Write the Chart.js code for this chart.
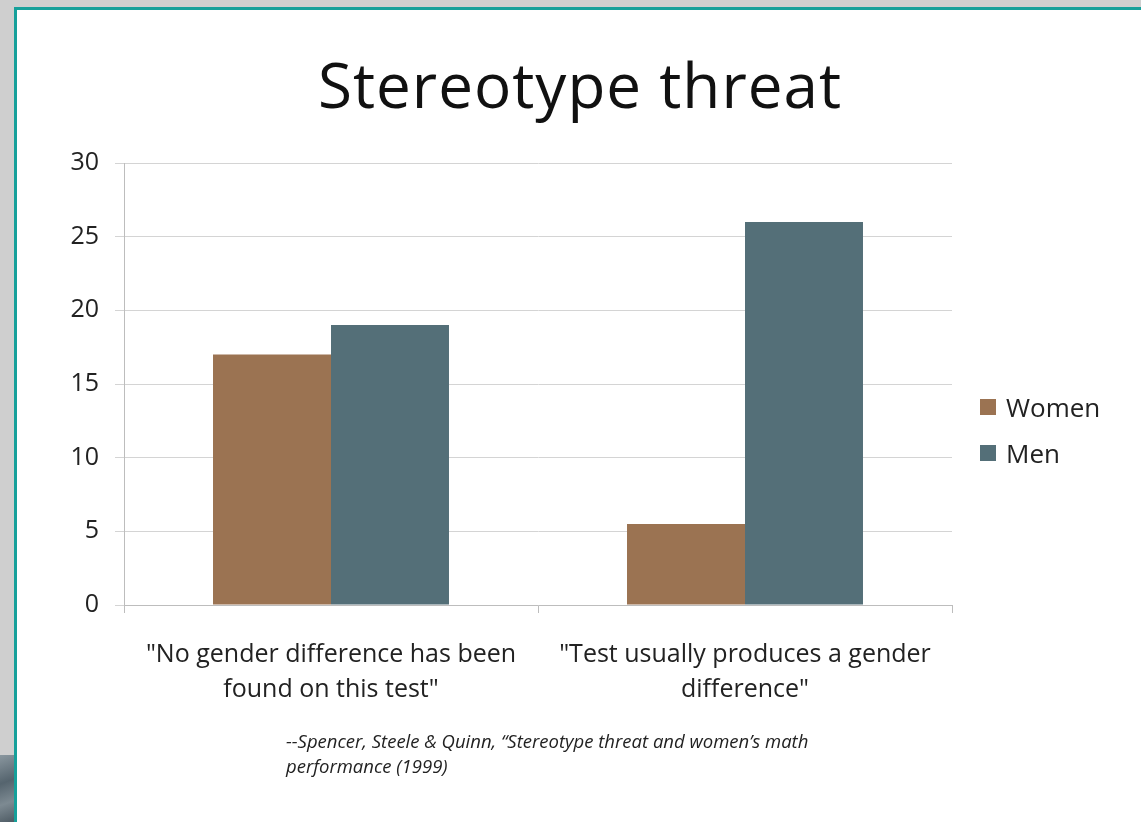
<!DOCTYPE html>
<html>
<head>
<meta charset="utf-8">
<script src="https://cdn.jsdelivr.net/npm/chart.js@4.4.1/dist/chart.umd.min.js"></script>
<style>
  html, body { margin:0; padding:0; }
  body { width:1141px; height:822px; background:#cfcfcf; position:relative; overflow:hidden; font-family: "Open Sans", Lato, sans-serif; }
  #photo { position:absolute; left:0; top:755px; width:15px; height:67px; background:linear-gradient(160deg,#8a979f,#55646e 40%,#7d8a92 70%,#4d5a63); }
  #slide { position:absolute; left:14px; top:7px; right:-10px; bottom:-10px; background:#fff; border-left:3px solid #16a09a; border-top:3px solid #16a09a; }
  #wrap { position:absolute; left:0; top:0; width:1141px; height:822px; }
  #title { position:absolute; left:0; width:1160px; top:44px; text-align:center; font-size:62px; letter-spacing:1px; color:#111; line-height:80px; }
  #legend { position:absolute; left:980px; top:384px; font-size:26px; color:#222; }
  #legend div { height:46px; line-height:34px; display:flex; align-items:center; }
  #legend span.sw { display:inline-block; width:16px; height:16px; margin-right:10px; }
  #cite { position:absolute; left:286px; top:728px; font-size:18.5px; font-style:italic; color:#222; line-height:25px; }
</style>
</head>
<body>
<div id="photo"></div>
<div id="slide"></div>
<div id="title">Stereotype threat</div>
<div id="wrap"><canvas id="c" width="1141" height="822"></canvas></div>
<div id="legend"></div>
<div id="cite">--Spencer, Steele &amp; Quinn, “Stereotype threat and women’s math<br>performance (1999)</div>
<script>
const categories = [
  ['"No gender difference has been', 'found on this test"'],
  ['"Test usually produces a gender', 'difference"']
];
const seriesNames = ['Women', 'Men'];
const women = [17, 5.5];
const men = [19, 26];
const yTicks = [0, 5, 10, 15, 20, 25, 30];
const colors = ['#9b7352', '#546f78'];

const fontFam = '"Open Sans", Lato, sans-serif';
const chart = new Chart(document.getElementById('c'), {
  type: 'bar',
  data: {
    labels: categories,
    datasets: [
      { label: seriesNames[0], data: women, backgroundColor: colors[0], categoryPercentage: 0.57, barPercentage: 1.0 },
      { label: seriesNames[1], data: men, backgroundColor: colors[1], categoryPercentage: 0.57, barPercentage: 1.0 }
    ]
  },
  options: {
    responsive: false,
    animation: false,
    layout: { padding: { left: 64, right: 189, top: 163, bottom: 117 } },
    plugins: { legend: { display: false }, title: { display: false }, tooltip: { enabled: false } },
    scales: {
      x: {
        afterFit: s => { s.height = 100; },
        grid: { display: true, drawOnChartArea: false, drawTicks: true, tickLength: 8, color: '#bdbdbd', offset: true },
        border: { color: '#bdbdbd' },
        ticks: { maxRotation: 0, minRotation: 0, autoSkip: false, padding: 24, color: '#222', font: { family: fontFam, size: 25, lineHeight: 1.4 } }
      },
      y: {
        min: 0, max: 30,
        afterFit: s => { s.width = 60; },
        afterBuildTicks: s => { s.ticks = yTicks.map(v => ({ value: v })); },
        grid: { color: '#d4d4d4', tickLength: 9, drawTicks: true },
        border: { color: '#bdbdbd' },
        ticks: { padding: 16, color: '#222', font: { family: fontFam, size: 25 } }
      }
    }
  }
});

const lg = document.getElementById('legend');
chart.data.datasets.forEach(ds => {
  const d = document.createElement('div');
  const sw = document.createElement('span');
  sw.className = 'sw'; sw.style.background = ds.backgroundColor;
  d.appendChild(sw);
  d.appendChild(document.createTextNode(ds.label));
  lg.appendChild(d);
});
</script>
</body>
</html>
